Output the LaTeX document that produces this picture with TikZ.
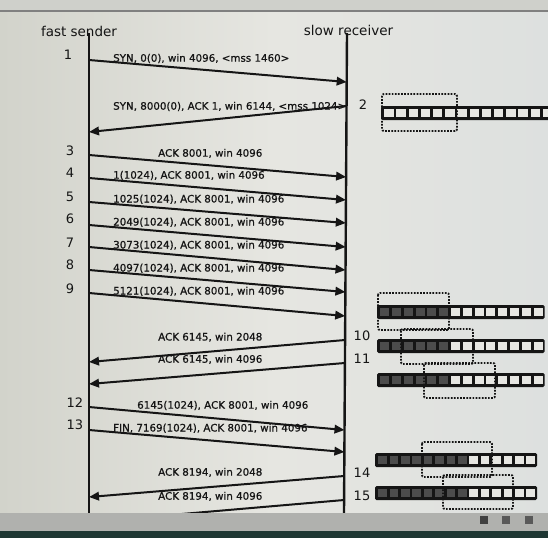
\documentclass[tikz,border=0pt]{standalone}
\usepackage{fontspec}
\setmainfont{DejaVu Sans}
\newfontfamily\lblfont[FakeBold=0.8]{DejaVu Sans}
\usetikzlibrary{arrows.meta}
\definecolor{bgL}{HTML}{D2D3CB}
\definecolor{bgM}{HTML}{E6E6E1}
\definecolor{bgR}{HTML}{DDE0DF}
\definecolor{topband}{HTML}{CFD0CB}
\definecolor{bezel}{HTML}{B0B1AE}
\definecolor{strip}{HTML}{1E3733}
\definecolor{ink}{HTML}{151515}
\definecolor{celld}{HTML}{4C4C4C}
\definecolor{cellw}{HTML}{E6E6E2}
\newcommand{\bufrow}[5]{% x0, ytop, cell width, n cells, n dark
  \fill[ink, rounded corners=1.5pt] ({#1-1},#2) rectangle ({#1+#3*#4+1.5},{#2+14});
  \foreach \i in {1,...,#4}{%
    \pgfmathsetmacro{\cx}{#1+(\i-1)*#3}%
    \ifnum\i>#5 \def\cc{cellw}\else\def\cc{celld}\fi
    \fill[\cc] ({\cx+2.2},{#2+2.7}) rectangle ({\cx+#3-0.6},{#2+11.3});
  }%
}
\begin{document}
\begin{tikzpicture}[x=1pt,y=-1pt,
  lifeline/.style={line width=2.4pt, draw=ink},
  msg/.style={line width=2pt, draw=ink, -{Triangle[length=10pt,width=8.5pt]}},
  lbl/.style={anchor=base west, inner sep=0pt, font=\lblfont\fontsize{10.3}{12}\selectfont, text=ink},
  num/.style={inner sep=0pt, font=\fontsize{13}{15}\selectfont, text=ink},
  head/.style={inner sep=0pt, font=\fontsize{13.5}{16}\selectfont, text=ink},
  wbox/.style={draw=ink, line width=1.9pt, dash pattern=on 1.7pt off 1.4pt, rounded corners=2pt},
]
\useasboundingbox (0,0) rectangle (548,538);
\clip (0,0) rectangle (548,538);
% background
\shade[left color=bgL, right color=bgR, middle color=bgM] (0,11) rectangle (548,513);
\fill[topband] (0,0) rectangle (548,11);
\draw[black!50, line width=1.2pt] (0,11) -- (548,11);

% headings
\node[head] (hs) at (79,31) {fast sender};
\node[head] (hr) at (348.5,30) {slow receiver};

% lifelines
\coordinate (st) at (89,33);   \coordinate (sb) at (89,513);
\coordinate (rt) at (347,33);  \coordinate (rb) at (344,513);
\draw[lifeline] (st) -- (sb);
\draw[lifeline] (rt) -- (rb);

% endpoints
\coordinate (s1) at (89,60);    \coordinate (r1) at (346.7,82);
\coordinate (r2) at (346.5,106); \coordinate (s2) at (89,132);
\coordinate (s3) at (89,155);   \coordinate (r3) at (346.1,177);
\coordinate (s4) at (89,178);   \coordinate (r4) at (346.0,200);
\coordinate (s5) at (89,202);   \coordinate (r5) at (345.8,223);
\coordinate (s6) at (89,225);   \coordinate (r6) at (345.7,247);
\coordinate (s7) at (89,247);   \coordinate (r7) at (345.5,270);
\coordinate (s8) at (89,270);   \coordinate (r8) at (345.4,292);
\coordinate (s9) at (89,293);   \coordinate (r9) at (345.2,316);
\coordinate (r10) at (345.1,340); \coordinate (s10) at (89,362);
\coordinate (r11) at (344.9,363); \coordinate (s11) at (89,384);
\coordinate (s12) at (89,407);  \coordinate (r12) at (344.5,430);
\coordinate (s13) at (89,430);  \coordinate (r13) at (344.4,452);
\coordinate (r14) at (344.2,476); \coordinate (s14) at (89,497);
\coordinate (r15) at (344.1,500); \coordinate (s15) at (89,522);

% messages
\draw[msg] (s1) -- (r1);
\draw[msg] (r2) -- (s2);
\draw[msg] (s3) -- (r3);
\draw[msg] (s4) -- (r4);
\draw[msg] (s5) -- (r5);
\draw[msg] (s6) -- (r6);
\draw[msg] (s7) -- (r7);
\draw[msg] (s8) -- (r8);
\draw[msg] (s9) -- (r9);
\draw[msg] (r10) -- (s10);
\draw[msg] (r11) -- (s11);
\draw[msg] (s12) -- (r12);
\draw[msg] (s13) -- (r13);
\draw[msg] (r14) -- (s14);
\draw[msg] (r15) -- (s15);

% labels
\node[lbl] (l1) at (113,61.7) {SYN, 0(0), win 4096, <mss 1460>};
\node[lbl] (l2) at (113,109.7) {SYN, 8000(0), ACK 1, win 6144, <mss 1024>};
\node[lbl] (l3) at (158,156.7) {ACK 8001, win 4096};
\node[lbl] (l4) at (113,178.7) {1(1024), ACK 8001, win 4096};
\node[lbl] (l5) at (113,202.5) {1025(1024), ACK 8001, win 4096};
\node[lbl] (l6) at (113,225.5) {2049(1024), ACK 8001, win 4096};
\node[lbl] (l7) at (113,248.5) {3073(1024), ACK 8001, win 4096};
\node[lbl] (l8) at (113,271.5) {4097(1024), ACK 8001, win 4096};
\node[lbl] (l9) at (113,294.5) {5121(1024), ACK 8001, win 4096};
\node[lbl] (l10) at (158,340.5) {ACK 6145, win 2048};
\node[lbl] (l11) at (158,362.7) {ACK 6145, win 4096};
\node[lbl] (l12) at (137,408.7) {6145(1024), ACK 8001, win 4096};
\node[lbl] (l13) at (113,431.5) {FIN, 7169(1024), ACK 8001, win 4096};
\node[lbl] (l14) at (158,475.7) {ACK 8194, win 2048};
\node[lbl] (l15) at (158,499.7) {ACK 8194, win 4096};

% step numbers
\node[num] (n1) at (68,55) {1};
\node[num] (n2) at (363,105) {2};
\node[num] (n3) at (70,151) {3};
\node[num] (n4) at (70,173) {4};
\node[num] (n5) at (70,197) {5};
\node[num] (n6) at (70,219) {6};
\node[num] (n7) at (70,243) {7};
\node[num] (n8) at (70,265) {8};
\node[num] (n9) at (70,289) {9};
\node[num] (n10) at (362,336) {10};
\node[num] (n11) at (362,359) {11};
\node[num] (n12) at (75,403) {12};
\node[num] (n13) at (75,425) {13};
\node[num] (n14) at (362,473) {14};
\node[num] (n15) at (362,496) {15};

% receiver buffers
\bufrow{382}{106}{12.2}{14}{0}
\draw[wbox] (382,94) rectangle (457,131);
\bufrow{378}{305}{11.8}{14}{6}
\draw[wbox] (378,293) rectangle (449,330);
\bufrow{378}{339}{11.8}{14}{6}
\draw[wbox] (401,329) rectangle (473,364);
\bufrow{378}{373}{11.8}{14}{6}
\draw[wbox] (424,363) rectangle (495,398);
\bufrow{376}{453}{11.4}{14}{8}
\draw[wbox] (422,442) rectangle (492,477);
\bufrow{376}{486}{11.4}{14}{8}
\draw[wbox] (443,475) rectangle (513,509);

% screen bezel
\fill[bezel] (0,513) rectangle (548,531);
\fill[strip] (0,531) rectangle (548,538);
\fill[black!75] (480,516) rectangle (488,524);
\fill[black!65] (502,516) rectangle (510,524);
\fill[black!65] (525,516) rectangle (533,524);
\end{tikzpicture}
\end{document}
